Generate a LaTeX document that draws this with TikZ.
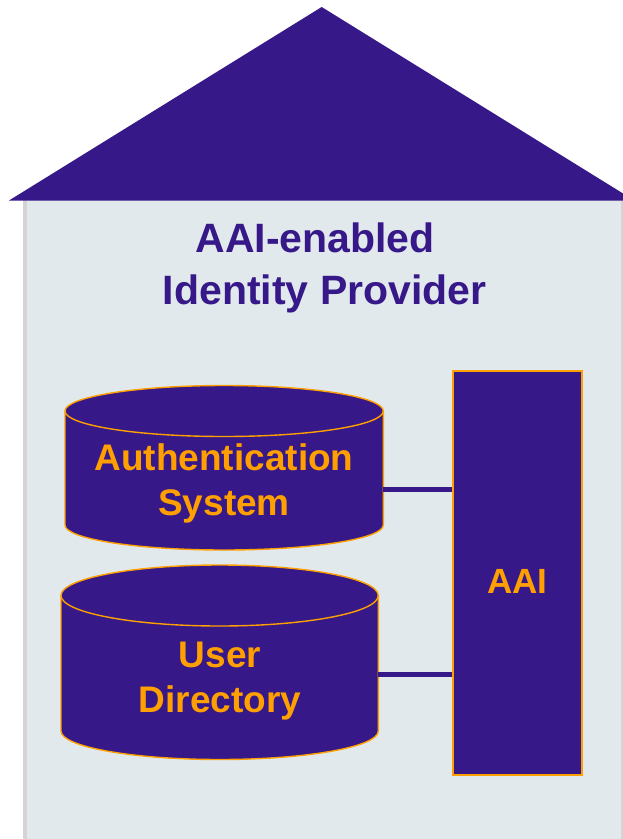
\documentclass[tikz,border=0pt]{standalone}
\usepackage{fontspec}
\setmainfont{Liberation Sans}
\definecolor{idpurple}{RGB}{54,24,136}
\definecolor{idorange}{RGB}{255,160,0}
\definecolor{wallfill}{RGB}{226,233,237}
\definecolor{wallshade}{RGB}{212,212,214}
\begin{document}
\begin{tikzpicture}[x=1pt,y=1pt,
  cyl/.style={fill=idpurple,draw=idorange,line width=1.4pt,line join=round},
  rim/.style={draw=idorange,line width=1.4pt},
  titletext/.style={text=idpurple,font=\bfseries\fontsize{41}{49}\selectfont,inner sep=0pt,anchor=base},
  dbtext/.style={text=idorange,font=\bfseries\fontsize{37}{45}\selectfont,inner sep=0pt,anchor=base},
  aaibox/.style={fill=idpurple,draw=idorange,line width=2.4pt,minimum width=129pt,minimum height=404pt,inner sep=0pt},
  link/.style={draw=idpurple,line width=5pt}]
\useasboundingbox (0,0) rectangle (623,-839);
\clip (0,0) rectangle (623,-839);

% house wall with shaded side edges
\fill[wallshade] (23,-200) rectangle (623,-839);
\fill[wallfill] (27,-200) rectangle (621,-839);

% roof
\fill[idpurple] (9,-200.5) -- (321.7,-7) -- (634.4,-200.5) -- cycle;

% title
\node[titletext] (title1) at (315,-252.3) {AAI-enabled};
\node[titletext] (title2) at (324.7,-304.3) {Identity Provider};

% authentication system cylinder
\path[cyl] (65,-411) -- (65,-525)
  arc[start angle=180,end angle=360,x radius=159.15,y radius=25]
  -- (383.3,-411)
  arc[start angle=0,end angle=180,x radius=159.15,y radius=25.5] -- cycle;
\draw[rim] (65,-411) arc[start angle=180,end angle=360,x radius=159.15,y radius=25.5];
\node[dbtext] (auth1) at (224,-470) {Authentication};
\node[dbtext] (auth2) at (224,-515.5) {System};
\coordinate (authport) at (383.3,-489.3);

% user directory cylinder
\path[cyl] (61,-595.5) -- (61,-731)
  arc[start angle=180,end angle=360,x radius=158.65,y radius=28.5]
  -- (378.3,-595.5)
  arc[start angle=0,end angle=180,x radius=158.65,y radius=30.5] -- cycle;
\draw[rim] (61,-595.5) arc[start angle=180,end angle=360,x radius=158.65,y radius=30.5];
\node[dbtext] (user1) at (220,-667) {User};
\node[dbtext] (user2) at (220,-712.7) {Directory};
\coordinate (userport) at (378.3,-674);

% AAI block
\node[aaibox] (aai) at (517.2,-573) {};
\node[dbtext,font=\bfseries\fontsize{35}{42}\selectfont] (aailabel) at (517.5,-593.3) {AAI};

% connectors
\draw[link] (authport) -- (authport -| aai.west);
\draw[link] (userport) -- (userport -| aai.west);
\end{tikzpicture}
\end{document}
